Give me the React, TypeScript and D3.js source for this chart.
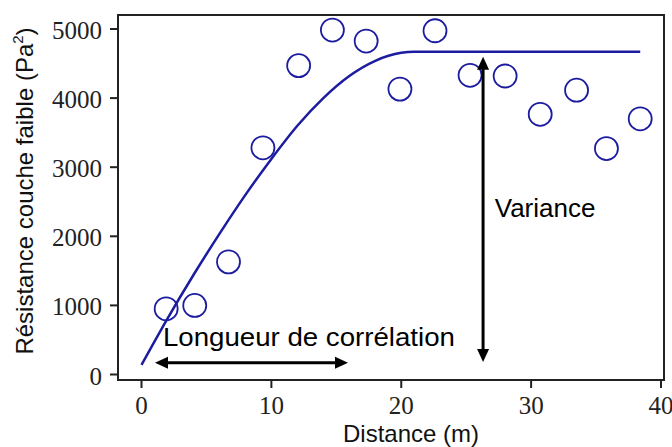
import React from "react";
import * as d3 from "d3";

const pointX = [1.9, 4.1, 6.7, 9.35, 12.1, 14.7, 17.3, 19.9, 22.6, 25.3, 28.0, 30.7, 33.5, 35.8, 38.4];
const pointY = [950, 1000, 1630, 3280, 4470, 4985, 4825, 4130, 4975, 4330, 4320, 3765, 4115, 3270, 3700];

const curveX = [0, 2, 4, 6, 8, 10, 12, 14, 16, 18, 20, 21, 38.4];
const curveY = [140, 810, 1440, 2035, 2600, 3120, 3600, 4000, 4320, 4540, 4655, 4670, 4670];

const xTicks = [0, 10, 20, 30, 40];
const yTicks = [0, 1000, 2000, 3000, 4000, 5000];

const W = 672;
const H = 447;
const frame = { left: 118, right: 664, top: 15, bottom: 380 };

export default function App() {
  const x = d3.scaleLinear().domain([0, 40]).range([141.5, 661]);
  const y = d3.scaleLinear().domain([0, 5000]).range([374.5, 29]);

  const line = d3
    .line<number>()
    .x((_, i) => x(curveX[i]))
    .y((d) => y(d))
    .curve(d3.curveMonotoneX);

  const blue = "#1c1ca0";
  const ink = "#111";
  const serif = "'Liberation Serif', 'Times New Roman', serif";
  const sans = "'Liberation Sans', Arial, sans-serif";

  // annotation geometry in data coordinates
  const hArrow = { x0: 1.04, x1: 15.9, y: 171 };
  const vArrow = { x: 26.3, y0: 4600, y1: 180 };

  const head = 13;
  const hw = 6;

  const hy = y(hArrow.y);
  const hx0 = x(hArrow.x0);
  const hx1 = x(hArrow.x1);
  const vx = x(vArrow.x);
  const vy0 = y(vArrow.y0);
  const vy1 = y(vArrow.y1);

  return (
    <svg
      width={W}
      height={H}
      style={{ position: "absolute", left: 0, top: 0, background: "#fff" }}
    >
      <rect x={0} y={0} width={W} height={H} fill="#fff" />
      {/* curve */}
      <path d={line(curveY) || ""} fill="none" stroke={blue} strokeWidth={2.5} />
      {/* points */}
      {pointX.map((px, i) => (
        <circle
          key={i}
          cx={x(px)}
          cy={y(pointY[i])}
          r={11.5}
          fill="none"
          stroke={blue}
          strokeWidth={1.8}
        />
      ))}
      {/* frame */}
      <rect
        x={frame.left}
        y={frame.top}
        width={frame.right - frame.left}
        height={frame.bottom - frame.top}
        fill="none"
        stroke="#222"
        strokeWidth={2}
      />
      {/* y ticks */}
      {yTicks.map((t) => (
        <g key={t}>
          <line x1={frame.left - 8} x2={frame.left} y1={y(t)} y2={y(t)} stroke="#222" strokeWidth={2} />
          <text
            x={102}
            y={y(t) + 10}
            textAnchor="end"
            fontFamily={serif}
            fontSize={25}
            fill="#222"
          >
            {t}
          </text>
        </g>
      ))}
      {/* x ticks */}
      {xTicks.map((t) => (
        <g key={t}>
          <line x1={x(t)} x2={x(t)} y1={frame.bottom} y2={frame.bottom + 8} stroke="#222" strokeWidth={2} />
          <text
            x={x(t)}
            y={414}
            textAnchor="middle"
            fontFamily={serif}
            fontSize={25}
            fill="#222"
          >
            {t}
          </text>
        </g>
      ))}
      {/* axis labels */}
      <text
        x={411}
        y={442}
        textAnchor="middle"
        fontFamily={sans}
        fontSize={24}
        fill={ink}
      >
        Distance (m)
      </text>
      <text
        transform={`translate(33,${191}) rotate(-90)`}
        textAnchor="middle"
        fontFamily={sans}
        fontSize={24}
        fill={ink}
      >
        Résistance couche faible (Pa
        <tspan fontSize={15} dy={-10}>2</tspan>
        <tspan dy={10}>)</tspan>
      </text>
      {/* horizontal arrow */}
      <line x1={hx0 + head - 2} x2={hx1 - head + 2} y1={hy} y2={hy} stroke="#000" strokeWidth={3} />
      <path d={`M${hx0},${hy} L${hx0 + head},${hy - hw} L${hx0 + head},${hy + hw} Z`} fill="#000" />
      <path d={`M${hx1},${hy} L${hx1 - head},${hy - hw} L${hx1 - head},${hy + hw} Z`} fill="#000" />
      <text
        x={x(1.65)}
        y={y(412)}
        fontFamily={sans}
        fontSize={26}
        textLength={292}
        lengthAdjust="spacingAndGlyphs"
        fill="#000"
      >
        Longueur de corrélation
      </text>
      {/* vertical arrow */}
      <line x1={vx} x2={vx} y1={vy0 + head - 2} y2={vy1 - head + 2} stroke="#000" strokeWidth={3} />
      <path d={`M${vx},${vy0} L${vx - hw},${vy0 + head} L${vx + hw},${vy0 + head} Z`} fill="#000" />
      <path d={`M${vx},${vy1} L${vx - hw},${vy1 - head} L${vx + hw},${vy1 - head} Z`} fill="#000" />
      <text x={x(27.2)} y={y(2279)} fontFamily={sans} fontSize={26} fill="#000">
        Variance
      </text>
    </svg>
  );
}
